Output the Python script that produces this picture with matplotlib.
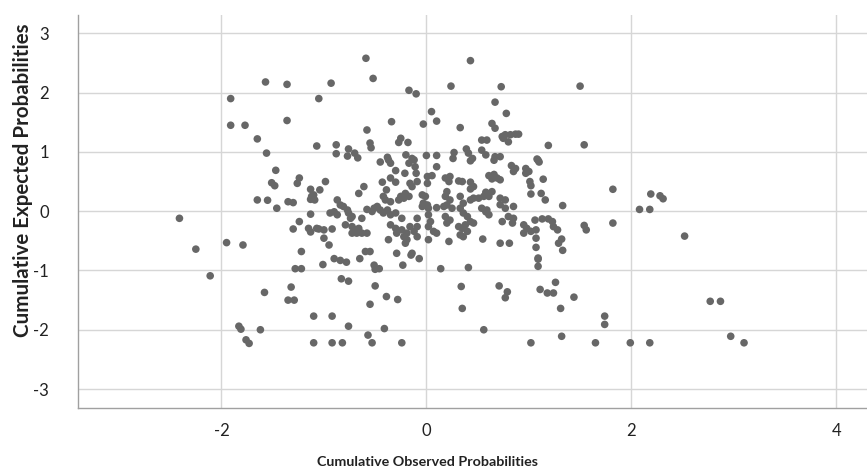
import matplotlib
matplotlib.use("Agg")
import matplotlib.pyplot as plt

plt.rcParams["axes.unicode_minus"] = False

pts = [
    (-1.57,2.18),(-1.36,2.14),(-1.91,1.90),(-1.05,1.90),(-1.91,1.45),(-1.77,1.45),(-1.36,1.53),(-1.65,1.22),(-1.07,1.10),(-1.56,0.98),
    (-0.59,2.58),(-0.52,2.24),(-0.93,2.16),(-0.17,2.04),(-0.10,1.98),(0.24,2.11),(0.43,2.54),(0.05,1.68),(0.10,1.52),(-0.03,1.47),
    (-0.34,1.51),(0.33,1.41),(-0.58,1.37),(-0.55,1.15),(-0.54,1.07),(-0.25,1.23),(-0.27,1.16),(-0.18,1.16),(-0.88,1.12),(-0.88,0.97),
    (-0.76,1.05),(-0.70,0.98),(-0.77,0.93),(-0.67,0.90),(-0.38,0.91),(-0.20,0.95),(-0.14,0.89),(0.0,0.94),(0.10,0.94),(0.27,0.99),
    (0.26,0.89),(0.39,1.05),(0.41,0.98),
    (0.73,2.10),(1.50,2.11),(0.67,1.84),(0.78,1.65),(0.64,1.48),(0.67,1.40),(0.74,1.26),(0.77,1.29),(0.82,1.29),(0.87,1.30),(0.90,1.30),
    (0.80,1.17),(0.75,1.23),(0.54,1.20),(0.59,1.20),(1.19,1.11),(1.54,1.12),(0.54,1.03),(0.58,0.95),(0.67,0.92),(0.72,0.92),(1.08,0.88),(0.45,0.89),
    (1.82,0.37),(2.19,0.29),(2.28,0.26),(2.31,0.21),(2.08,0.03),(2.18,0.03),(1.82,-0.20),(2.52,-0.42),
    (2.77,-1.52),(2.87,-1.52),(1.99,-2.22),(2.18,-2.22),(2.97,-2.11),(3.10,-2.22),
    (1.09,-0.81),(1.09,-0.93),(0.41,-0.95),(0.34,-1.27),(0.71,-1.26),(0.79,-1.36),(0.77,-1.46),(1.11,-1.32),(1.18,-1.38),(1.24,-1.38),
    (1.26,-1.20),(1.44,-1.45),(0.35,-1.64),(1.31,-1.64),(1.74,-1.77),(1.74,-1.91),(0.56,-2.00),(1.32,-2.11),(1.02,-2.22),(1.65,-2.22),
    (-1.01,-0.90),(-0.90,-0.80),(-0.84,-0.83),(-0.78,-0.86),(-0.65,-0.80),(-0.51,-0.91),(-0.50,-0.98),(-0.46,-0.97),(-0.23,-0.91),(-0.15,-0.74),
    (-0.07,-0.80),(0.14,-0.97),(-0.83,-1.14),(-0.76,-1.18),(-0.50,-1.26),(-0.39,-1.44),(-0.28,-1.49),(-0.55,-1.57),(-1.10,-1.77),(-0.92,-1.77),
    (-0.76,-1.94),(-0.41,-1.98),(-0.57,-2.09),(-1.10,-2.22),(-0.92,-2.22),(-0.82,-2.22),(-0.53,-2.22),(-0.24,-2.22),
    (-2.11,-1.09),(-1.28,-0.97),(-1.22,-0.97),(-1.58,-1.37),(-1.32,-1.28),(-1.35,-1.50),(-1.29,-1.50),(-1.83,-1.94),(-1.81,-1.99),(-1.62,-2.00),
    (-1.76,-2.17),(-1.73,-2.23),
    (-1.47,0.69),(-1.51,0.48),(-1.48,0.43),(-1.24,0.56),(-1.26,0.47),(-1.13,0.37),(-1.04,0.36),(-1.65,0.19),(-1.55,0.185),(-1.35,0.16),
    (-1.30,0.145),(-1.12,0.25),(-1.09,0.19),(-1.13,0.20),(-1.46,0.05),(-2.41,-0.12),(-1.13,-0.05),(-1.24,-0.175),(-1.30,-0.30),(-1.15,-0.29),
    (-1.13,-0.35),(-1.05,-0.30),(-1.95,-0.53),(-1.79,-0.57),(-2.25,-0.64),(-1.22,-0.68),
    (0.43,0.85),(0.66,0.86),(0.83,0.77),(0.87,0.72),(0.85,0.67),(0.97,0.72),(1.00,0.67),(0.97,0.64),(1.09,0.86),(1.10,0.83),
    (1.14,0.54),(0.61,0.60),(0.66,0.62),(0.69,0.56),(0.72,0.53),(0.64,0.545),(0.43,0.49),(0.46,0.415),(0.43,0.375),(0.35,0.50),
    (1.01,0.50),(1.02,0.43),(1.02,0.29),(1.12,0.30),(1.16,0.19),(0.58,0.32),(0.64,0.33),(0.56,0.25),(0.61,0.25),(0.46,0.22),
    (0.43,0.19),(0.51,0.22),(0.72,0.22),(0.77,0.19),(0.85,0.08),(0.72,0.11),(0.77,0.05),(1.33,0.095),(0.54,0.05),(0.58,-0.01),
    (0.61,-0.06),(0.59,0.02),(0.33,0.05),(0.36,-0.03),(0.40,-0.09),(0.43,-0.175),(0.46,-0.20),(0.38,-0.23),(0.35,-0.29),(0.40,-0.34),
    (0.33,-0.40),(0.36,-0.43),(0.80,-0.09),(0.85,-0.12),(0.84,-0.20),(0.74,-0.175),(0.95,-0.23),(0.98,-0.29),(0.95,-0.37),(1.02,-0.34),
    (1.06,-0.15),(1.13,-0.13),(1.19,-0.13),(1.23,-0.175),(1.24,-0.26),(1.28,-0.315),(1.07,-0.315),(1.54,-0.24),(1.56,-0.315),(1.07,-0.455),
    (0.55,-0.47),(0.72,-0.54),(0.81,-0.54),(1.07,-0.61),(1.32,-0.47),(1.29,-0.54),(1.33,-0.66),(1.09,-0.79),
    (-0.45,0.83),(-0.37,0.865),(-0.35,0.81),(-0.12,0.865),(-0.17,0.81),(0.10,0.75),
    (-0.30,0.685),(-0.21,0.64),(-0.11,0.75),(-0.10,0.64),(-0.43,0.49),(-0.35,0.56),(-0.30,0.49),(-0.16,0.47),(-0.09,0.50),(-0.14,0.415),
    (0.01,0.585),(0.055,0.60),(0.01,0.47),(0.185,0.56),(0.23,0.585),(0.22,0.50),(0.315,0.51),(-0.985,0.50),(-1.10,0.275),(-0.61,0.415),
    (-0.66,0.30),(-0.39,0.36),(-0.42,0.25),(-0.40,0.19),(-0.35,0.16),(-0.25,0.25),(-0.205,0.30),(-0.17,0.25),(-0.22,0.22),(-0.27,0.19),
    (-0.04,0.275),(-0.01,0.25),(-0.03,0.135),(0.01,0.105),(0.02,0.05),(-0.04,0.08),(0.10,0.06),(0.20,0.33),(0.185,0.25),(0.23,0.19),
    (0.20,0.105),(0.25,0.05),(0.17,0.08),(0.33,0.25),(0.36,0.135),
    (-0.87,0.19),(-0.84,0.105),(-0.81,0.08),(-0.77,0.02),(-0.76,-0.03),(-0.725,-0.09),(-0.74,-0.12),(-0.90,-0.01),(-0.87,-0.06),(-0.94,-0.03),
    (-0.63,-0.12),(-0.58,0.03),(-0.51,0.05),(-0.48,0.08),(-0.53,-0.005),(-0.45,0.02),(-0.42,-0.03),(-0.38,0.02),(-0.35,-0.06),(-0.30,-0.03),
    (-0.24,-0.12),(-0.09,-0.12),(-1.07,-0.29),(-1.00,-0.315),(-0.92,-0.30),(-1.00,-0.455),(-0.95,-0.57),(-0.79,-0.23),(-0.725,-0.26),(-0.69,-0.315),
    (-0.725,-0.37),(-0.68,-0.37),(-0.63,-0.37),(-0.58,-0.37),(-0.66,-0.29),(-0.35,-0.23),(-0.30,-0.29),(-0.29,-0.37),(-0.24,-0.315),(-0.19,-0.37),
    (-0.22,-0.43),(-0.16,-0.26),(-0.09,-0.26),(-0.12,-0.34),(-0.19,-0.48),(-0.09,-0.43),(-0.37,-0.48),(-0.205,-0.54),(0.02,-0.06),(0.04,-0.175),
    (0.02,-0.26),(0.07,-0.34),(0.10,-0.37),(0.02,-0.48),(0.185,-0.09),(0.23,-0.15),(0.20,-0.20),(0.315,-0.26),(0.22,-0.51),(-0.595,-0.68),
    (-0.55,-0.68),(-0.29,-0.71),(-0.14,-0.71),
]
observed = [p[0] for p in pts]
expected = [p[1] for p in pts]

x_ticks = [-2, 0, 2, 4]
y_ticks = [-3, -2, -1, 0, 1, 2, 3]
x_label = "Cumulative Observed Probabilities"
y_label = "Cumulative Expected Probabilities"

W, H = 867, 472
fig = plt.figure(figsize=(W/100, H/100), dpi=100)
ax = fig.add_axes([78/W, (H-408)/H, 1 - 78/W, (408-15)/H])
ax.scatter(observed, expected, s=30, color="#676767", edgecolors="none", zorder=3)

ax.set_xlim(-3.40, 4.30)
ax.set_ylim(-3.32, 3.31)
ax.set_xticks(x_ticks)
ax.set_yticks(y_ticks)
ax.grid(True, color="#d6d6d6", linewidth=1.0, zorder=0)
ax.set_axisbelow(True)
for s in ["top", "right"]:
    ax.spines[s].set_visible(False)
for s in ["left", "bottom"]:
    ax.spines[s].set_color("#a0a0a0")
    ax.spines[s].set_linewidth(1.0)
ax.tick_params(axis="both", length=0, labelcolor="#222222", labelsize=12)
ax.tick_params(axis="y", pad=21)
ax.tick_params(axis="x", pad=11)
for lab in ax.get_xticklabels() + ax.get_yticklabels():
    lab.set_family("Lato")

fig.text(427.5/W, 1 - 462/H, x_label, ha="center", va="center",
         fontsize=10.3, fontweight="bold", family="Lato", color="#222222")
fig.text(23/W, 1 - 180/H, y_label, ha="center", va="center", rotation=90,
         fontsize=14.8, fontweight="bold", family="Lato", color="#222222")

fig.savefig("out.png", dpi=100)
